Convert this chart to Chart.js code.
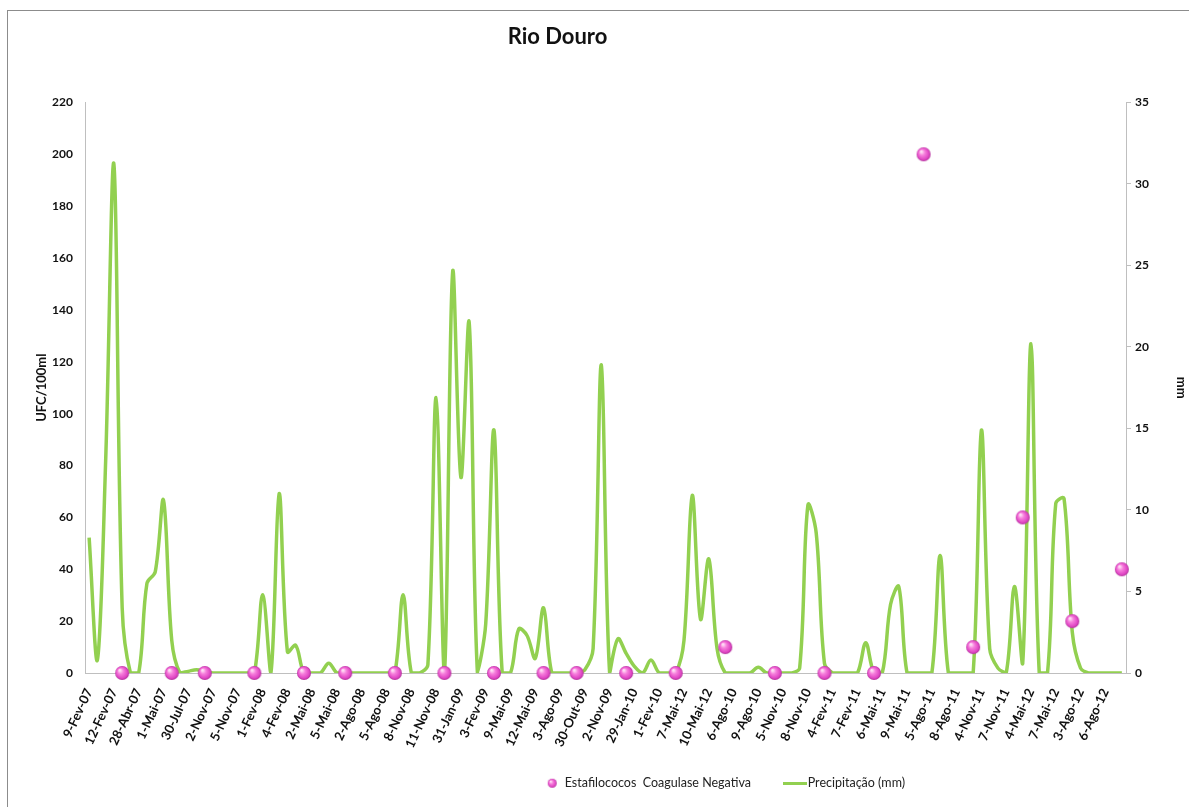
<!DOCTYPE html>
<html>
<head>
<meta charset="utf-8">
<title>Rio Douro</title>
<script src="https://cdn.jsdelivr.net/npm/chart.js@4.4.1/dist/chart.umd.min.js"></script>
<style>
  html, body { margin: 0; padding: 0; background: #fff; overflow: hidden; }
  #wrap { position: relative; width: 1189px; height: 807px; overflow: hidden; }
  #chart { position: absolute; left: 0; top: 0; }
  #frame { position: absolute; left: 7px; top: 10px; width: 1300px; height: 900px;
           border-left: 1px solid #8c8c8c; border-top: 1px solid #8c8c8c; pointer-events: none; }
</style>
</head>
<body>
<div id="wrap">
  <canvas id="chart" width="1189" height="807"></canvas>
  <div id="frame"></div>
</div>
<script>
// Dates printed under the axis (one every third day slot)
const tickLabels = [
  '9-Fev-07', '12-Fev-07', '28-Abr-07', '1-Mai-07', '30-Jul-07', '2-Nov-07', '5-Nov-07',
  '1-Fev-08', '4-Fev-08', '2-Mai-08', '5-Mai-08', '2-Ago-08', '5-Ago-08', '8-Nov-08',
  '11-Nov-08', '31-Jan-09', '3-Fev-09', '9-Mai-09', '12-Mai-09', '3-Ago-09', '30-Out-09',
  '2-Nov-09', '29-Jan-10', '1-Fev-10', '7-Mai-12', '10-Mai-12', '6-Ago-10', '9-Ago-10',
  '5-Nov-10', '8-Nov-10', '4-Fev-11', '7-Fev-11', '6-Mai-11', '9-Mai-11', '5-Ago-11',
  '8-Ago-11', '4-Nov-11', '7-Nov-11', '4-Mai-12', '7-Mai-12', '3-Ago-12', '6-Ago-12'
];
const labelEvery = 3;

// Daily precipitation (mm), one value per day slot
const precipitation = [
  8.3, 0.8, 13, 31.2, 4, 0, 0, 5.5, 6.2, 10.6,
  2.0, 0, 0.1, 0.2, 0.1, 0, 0, 0, 0, 0,
  0, 4.8, 0, 11.0, 1.3, 1.7, 0, 0, 0, 0.6,
  0, 0, 0, 0, 0, 0, 0, 0, 4.8, 0,
  0, 0.5, 16.9, 0, 24.6, 12.0, 21.5, 0, 3, 14.9,
  0, 0, 2.7, 2.3, 0.9, 4.0, 0, 0, 0, 0,
  0.2, 1.5, 18.9, 0, 2.1, 1.2, 0.4, 0, 0.8, 0,
  0, 0, 2.0, 10.9, 3.3, 7.0, 1.5, 0, 0, 0,
  0, 0.35, 0, 0, 0, 0, 0.3, 10.3, 8.6, 0.6,
  0, 0, 0, 0, 1.85, 0, 0, 4.2, 5.3, 0,
  0, 0, 0, 7.2, 0, 0, 0, 0, 14.9, 1.5,
  0.3, 0, 5.3, 0.6, 20.2, 0, 0, 10.4, 10.7, 2.5,
  0.3, 0, 0, 0, 0, 0
];

// Sampling days (slot index) and coagulase-negative staphylococci counts (UFC/100ml)
const sampleSlot = [4, 10, 14, 20, 26, 31, 37, 43, 49, 55, 59, 65, 71, 77, 83, 89, 95, 101, 107, 113, 119, 125];
const staphCounts = [0, 0, 0, 0, 0, 0, 0, 0, 0, 0, 0, 0, 0, 10, 0, 0, 0, 200, 10, 60, 20, 40];

const FONT = 'Lato, "Open Sans", "DejaVu Sans", sans-serif';
const GREEN = '#92D050';
const AXIS = '#BFBFBF';

// Glossy pink marker
function sphere(d) {
  const c = document.createElement('canvas');
  c.width = c.height = d + 2;
  const g = c.getContext('2d');
  const r = d / 2, cx = r + 1, cy = r + 1;
  const grd = g.createRadialGradient(cx - r * 0.35, cy - r * 0.4, r * 0.1, cx, cy, r);
  grd.addColorStop(0, '#ffe0f6');
  grd.addColorStop(0.35, '#f77fdc');
  grd.addColorStop(0.8, '#e046c4');
  grd.addColorStop(1, '#b0329a');
  g.fillStyle = grd;
  g.beginPath();
  g.arc(cx, cy, r, 0, Math.PI * 2);
  g.fill();
  return c;
}
function lineSwatch(w, h) {
  const c = document.createElement('canvas');
  c.width = w; c.height = h;
  const g = c.getContext('2d');
  g.fillStyle = GREEN;
  g.fillRect(0, 0, w, h);
  return c;
}
const dotImg = sphere(14);
const legendDotImg = sphere(9);
const legendLineImg = lineSwatch(24, 3);

const lastSlot = precipitation.length - 1;
const legendGap = 38;

// Places the title and legend blocks
const blockPlacement = {
  id: 'blockPlacement',
  afterLayout(chart) {
    const lg = chart.legend;
    const dx = (546 - legendGap) - lg.left;
    lg.left += dx; lg.right += dx;
    lg.top = 777 - legendGap; lg.bottom = chart.height;
    lg.height = lg.bottom - lg.top;
    const t = chart.titleBlock;
    t.left -= 37; t.right -= 37;
  }
};

new Chart(document.getElementById('chart'), {
  type: 'line',
  data: {
    datasets: [
      {
        type: 'scatter',
        label: 'Estafilococos  Coagulase Negativa',
        data: sampleSlot.map((s, k) => ({ x: s, y: staphCounts[k] })),
        yAxisID: 'y',
        pointStyle: dotImg,
        pointRadius: 7,
        clip: false
      },
      {
        type: 'line',
        label: 'Precipitação (mm)',
        data: precipitation.map((v, i) => ({ x: i, y: v })),
        yAxisID: 'y1',
        borderColor: GREEN,
        borderWidth: 3.5,
        pointRadius: 0,
        tension: 0.35,
        fill: false
      }
    ]
  },
  options: {
    responsive: false,
    animation: false,
    devicePixelRatio: 1,
    layout: { padding: { left: 0, right: 0, top: 0, bottom: 0 } },
    scales: {
      x: {
        type: 'linear',
        min: -0.5,
        max: lastSlot + 0.5,
        grid: { display: false },
        border: { display: true, color: AXIS, width: 1 },
        afterBuildTicks(s) {
          s.ticks = tickLabels.map((_, k) => ({ value: k * labelEvery }));
        },
        afterFit(s) { s.height = 88; },
        ticks: {
          autoSkip: false,
          minRotation: 65,
          maxRotation: 65,
          padding: 5,
          color: '#111',
          font: { family: FONT, size: 13, weight: 'bold' },
          callback: (v) => tickLabels[Math.round(v / labelEvery)]
        }
      },
      y: {
        position: 'left',
        min: 0,
        max: 220,
        grid: { display: false },
        border: { display: true, color: AXIS, width: 1 },
        afterFit(s) { s.width = 85; },
        ticks: {
          stepSize: 20,
          padding: 4,
          color: '#111',
          font: { family: FONT, size: 12, weight: 'bold' }
        },
        title: {
          display: true,
          text: 'UFC/100ml',
          color: '#111',
          font: { family: FONT, size: 13, weight: 'bold' },
          padding: { top: 34, bottom: 0 }
        }
      },
      y1: {
        position: 'right',
        min: 0,
        max: 35,
        grid: { display: true, drawOnChartArea: false, drawTicks: true, tickLength: 5, color: AXIS },
        border: { display: true, color: AXIS, width: 1 },
        afterFit(s) { s.width = 63; },
        ticks: {
          stepSize: 5,
          padding: 4,
          color: '#111',
          font: { family: FONT, size: 12, weight: 'bold' }
        },
        title: {
          display: true,
          text: 'mm',
          color: '#111',
          font: { family: FONT, size: 13, weight: 'bold' },
          padding: { top: 0, bottom: 0 }
        }
      }
    },
    plugins: {
      title: {
        display: true,
        text: 'Rio Douro',
        color: '#111',
        font: { family: FONT, size: 22, weight: 'bold' },
        padding: { top: 24, bottom: 52 }
      },
      legend: {
        position: 'bottom',
        align: 'start',
        maxHeight: 46,
        labels: {
          usePointStyle: true,
          padding: legendGap,
          color: '#222',
          font: { family: FONT, size: 12.5 },
          generateLabels(chart) {
            return chart.data.datasets.map((ds, i) => ({
              text: ds.label,
              datasetIndex: i,
              pointStyle: i === 0 ? legendDotImg : legendLineImg,
              fillStyle: i === 0 ? '#e046c4' : GREEN,
              strokeStyle: i === 0 ? '#e046c4' : GREEN,
              lineWidth: 0,
              fontColor: '#222',
              hidden: !chart.isDatasetVisible(i)
            }));
          }
        }
      },
      tooltip: { enabled: false }
    }
  },
  plugins: [blockPlacement]
});
</script>
</body>
</html>
